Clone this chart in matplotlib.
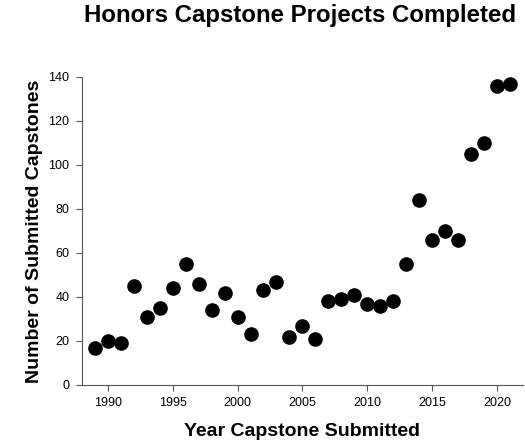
import matplotlib
matplotlib.use("Agg")
import matplotlib.pyplot as plt

plt.rcParams["font.family"] = ["Liberation Sans", "DejaVu Sans"]

years = list(range(1989, 2022))
capstones = [17, 20, 19, 45, 31, 35, 44, 55, 46, 34, 42, 31, 23, 43, 47, 22,
             27, 21, 38, 39, 41, 37, 36, 38, 55, 84, 66, 70, 66, 105, 110, 136, 137]
x_ticks = [1990, 1995, 2000, 2005, 2010, 2015, 2020]
y_ticks = [0, 20, 40, 60, 80, 100, 120, 140]

fig = plt.figure(figsize=(5.25, 4.42), dpi=100)
ax = fig.add_axes([0.156, 0.129, 0.84, 0.697])

ax.plot(years, capstones, "o", color="black", markersize=9.5, clip_on=False)

ax.set_xlim(1988, 2022)
ax.set_ylim(0, 140)
ax.set_xticks(x_ticks)
ax.set_yticks(y_ticks)
ax.tick_params(labelsize=9, length=4, pad=5, color="#555555")
for s in ["top", "right"]:
    ax.spines[s].set_visible(False)
for s in ["left", "bottom"]:
    ax.spines[s].set_color("#555555")

ax.set_xlabel("Year Capstone Submitted", fontsize=14, fontweight="bold", labelpad=10)
ax.set_ylabel("Number of Submitted Capstones", fontsize=14, fontweight="bold", labelpad=4)
fig.text(0.571, 0.966, "Honors Capstone Projects Completed", ha="center", va="center",
         fontsize=17.3, fontweight="bold")

fig.savefig("out.png", dpi=100)
